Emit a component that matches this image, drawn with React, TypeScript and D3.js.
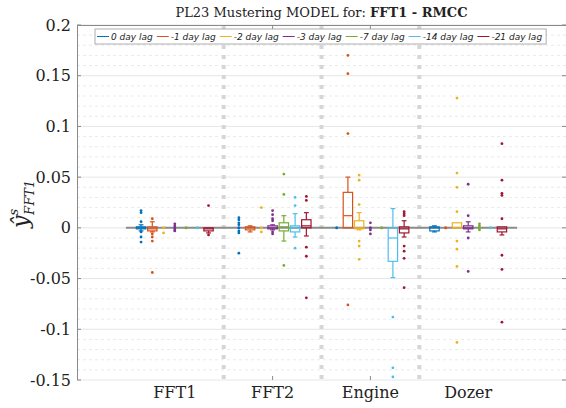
import React, { useEffect, useRef } from "react";
import * as d3 from "d3";

const categories = ["FFT1", "FFT2", "Engine", "Dozer"];
const lagLabels = ["0 day lag", "-1 day lag", "-2 day lag", "-3 day lag", "-7 day lag", "-14 day lag", "-21 day lag"];
const lagColors = ["#0072BD", "#D95319", "#EDB120", "#7E2F8E", "#77AC30", "#4DBEEE", "#A2142F"];
const yTicks = [0.2, 0.15, 0.1, 0.05, 0, -0.05, -0.1, -0.15];
const yTickLabels = ["0.2", "0.15", "0.1", "0.05", "0", "-0.05", "-0.1", "-0.15"];

// box statistics: [category][lag]
const q1s = [
  [-0.001, -0.003, 0, 0, 0, 0, -0.003],
  [0, -0.002, 0, -0.001, -0.003, -0.004, 0],
  [0, 0, -0.001, 0, 0, -0.033, -0.005],
  [-0.003, 0, 0, -0.001, 0, 0, -0.004],
];
const medians = [
  [0, -0.001, 0, 0, 0, 0, -0.001],
  [0, 0, 0, 0, 0.001, 0, 0.002],
  [0, 0.012, 0, 0, 0, -0.01, -0.001],
  [0, 0, 0, 0, 0, 0, -0.001],
];
const q3s = [
  [0.001, 0.001, 0, 0, 0, 0, 0],
  [0, 0.001, 0, 0.002, 0.005, 0.002, 0.008],
  [0, 0.035, 0.007, 0, 0, 0, 0.001],
  [0.001, 0, 0.005, 0.002, 0, 0, 0.001],
];
const whiskerLo = [
  [-0.003, -0.004, 0, 0, 0, 0, -0.005],
  [0, -0.004, 0, -0.002, -0.013, -0.009, -0.008],
  [0, 0, -0.002, 0, 0, -0.049, -0.009],
  [-0.004, 0, 0, -0.004, 0, 0, -0.007],
];
const whiskerHi = [
  [0.003, 0.006, 0, 0, 0, 0, 0],
  [0, 0.002, 0, 0.003, 0.012, 0.014, 0.015],
  [0, 0.05, 0.015, 0, 0, 0.019, 0.007],
  [0.002, 0, 0.005, 0.006, 0, 0, 0.001],
];
const outliers = [
  [
    [0.017, 0.015, 0.006, -0.004, -0.009, -0.014],
    [0.009, -0.006, -0.009, -0.013, -0.044],
    [-0.005],
    [0.004, 0.002, -0.002, -0.003],
    [],
    [],
    [0.022, -0.007],
  ],
  [
    [0.01, 0.008, 0.005, 0.003, -0.003, -0.005, -0.025],
    [],
    [0.02, -0.004],
    [0.017, 0.013, 0.009, 0.007, -0.004, -0.006],
    [0.053, 0.033, -0.037],
    [0.03, 0.022, -0.02],
    [0.031, 0.027, -0.019, -0.028, -0.069],
  ],
  [
    [],
    [0.17, 0.152, 0.093, -0.076],
    [0.052, 0.047, 0.023, -0.013, -0.018, -0.031],
    [0.005, -0.002, -0.006],
    [],
    [-0.088, -0.138, -0.147],
    [0.016, 0.014, 0.012, -0.018, -0.023, -0.03, -0.059],
  ],
  [
    [],
    [],
    [0.128, 0.054, 0.04, 0.016, -0.013, -0.021, -0.038, -0.113],
    [0.043, 0.012, -0.01, -0.043],
    [0.004, 0.002, -0.002],
    [],
    [0.083, 0.047, 0.034, 0.032, 0.009, -0.027, -0.041, -0.093],
  ],
];

export default function App() {
  const ref = useRef<SVGSVGElement>(null);
  useEffect(() => {
    const svg = d3.select(ref.current);
    svg.selectAll("*").remove();
    const W = 566, H = 408, L = 77, R = 566, T = 25, B = 380;
    const serif = "'DejaVu Serif', 'Liberation Serif', serif";
    const x = d3.scaleLinear().domain([0, 5]).range([L, R]);
    const y = d3.scaleLinear().domain([-0.15, 0.2]).range([B, T]);

    svg.append("rect").attr("width", W).attr("height", H).attr("fill", "#fff");

    // minor grid
    const minor = d3.range(-14, 20).map((k) => k / 100).filter((v) => Math.abs(Math.round(v * 100) % 5) !== 0);
    svg.append("g").selectAll("line").data(minor).join("line")
      .attr("x1", L).attr("x2", R)
      .attr("y1", (d) => y(d)).attr("y2", (d) => y(d))
      .attr("stroke", "#e4e4e4").attr("stroke-width", 0.8).attr("stroke-dasharray", "3,3");
    // major grid
    svg.append("g").selectAll("line").data(yTicks).join("line")
      .attr("x1", L).attr("x2", R)
      .attr("y1", (d) => y(d)).attr("y2", (d) => y(d))
      .attr("stroke", "#e0e0e0").attr("stroke-width", 0.8);

    // separators
    svg.append("g").selectAll("line").data([1.5, 2.5, 3.5]).join("line")
      .attr("x1", (d) => x(d)).attr("x2", (d) => x(d))
      .attr("y1", T).attr("y2", B + 4)
      .attr("stroke", "#d6d6d6").attr("stroke-width", 4).attr("stroke-dasharray", "4,6");

    // zero line
    svg.append("line")
      .attr("x1", x(0.5)).attr("x2", x(4.5)).attr("y1", y(0)).attr("y2", y(0))
      .attr("stroke", "#8c8c8c").attr("stroke-width", 2);

    // boxes
    const hw = 4.7, cap = 2.4, step = 0.115;
    const g = svg.append("g");
    categories.forEach((_, ci) => {
      lagColors.forEach((col, li) => {
        const cx = x(ci + 1 + (li - 3) * step);
        const a = q1s[ci][li], m = medians[ci][li], b = q3s[ci][li];
        const lo = whiskerLo[ci][li], hi = whiskerHi[ci][li];
        const bg = g.append("g").attr("stroke", col).attr("fill", "none").attr("stroke-width", 1.2);
        if (b > a) {
          if (hi > b) {
            bg.append("line").attr("x1", cx).attr("x2", cx).attr("y1", y(hi)).attr("y2", y(b));
            bg.append("line").attr("x1", cx - cap).attr("x2", cx + cap).attr("y1", y(hi)).attr("y2", y(hi));
          }
          if (lo < a) {
            bg.append("line").attr("x1", cx).attr("x2", cx).attr("y1", y(a)).attr("y2", y(lo));
            bg.append("line").attr("x1", cx - cap).attr("x2", cx + cap).attr("y1", y(lo)).attr("y2", y(lo));
          }
          bg.append("rect").attr("x", cx - hw).attr("width", 2 * hw)
            .attr("y", y(b)).attr("height", y(a) - y(b));
          bg.append("line").attr("x1", cx - hw).attr("x2", cx + hw).attr("y1", y(m)).attr("y2", y(m));
        } else {
          g.append("circle").attr("cx", cx).attr("cy", y(m)).attr("r", 1.5).attr("fill", col);
        }
        g.append("g").selectAll("circle").data(outliers[ci][li]).join("circle")
          .attr("cx", cx).attr("cy", (d) => y(d)).attr("r", 1.4).attr("fill", col);
      });
    });

    // axes
    const ax = svg.append("g").attr("stroke", "#8a8a8a").attr("stroke-width", 1);
    ax.append("line").attr("x1", L + 0.5).attr("x2", L + 0.5).attr("y1", T).attr("y2", B);
    ax.append("line").attr("x1", L).attr("x2", R).attr("y1", T + 0.5).attr("y2", T + 0.5);
    ax.selectAll(".lt").data(yTicks).join("line").attr("class", "lt")
      .attr("x1", L).attr("x2", L + 4).attr("y1", (d) => y(d)).attr("y2", (d) => y(d));
    ax.selectAll(".rt").data(yTicks).join("line").attr("class", "rt")
      .attr("x1", R - 4).attr("x2", R).attr("y1", (d) => y(d)).attr("y2", (d) => y(d));
    ax.selectAll(".tt").data([2, 3]).join("line").attr("class", "tt")
      .attr("x1", (d) => x(d)).attr("x2", (d) => x(d)).attr("y1", T).attr("y2", T + 4);
    ax.selectAll(".bt").data([2, 3]).join("line").attr("class", "bt")
      .attr("x1", (d) => x(d)).attr("x2", (d) => x(d)).attr("y1", B).attr("y2", B - 4);

    // y tick labels
    svg.append("g").selectAll("text").data(yTicks).join("text")
      .attr("x", L - 6).attr("y", (d) => y(d)).attr("dy", "0.35em")
      .attr("text-anchor", "end").attr("font-family", serif).attr("font-size", 16).attr("fill", "#222")
      .text((_, i) => yTickLabels[i]);

    // x category labels
    svg.append("g").selectAll("text").data(categories).join("text")
      .attr("x", (_, i) => x(i + 1)).attr("y", 398)
      .attr("text-anchor", "middle").attr("font-family", serif).attr("font-size", 16).attr("fill", "#222")
      .text((d) => d);

    // title
    const title = svg.append("text").attr("x", (L + R) / 2).attr("y", 17)
      .attr("text-anchor", "middle").attr("font-family", serif).attr("font-size", 13).attr("fill", "#222");
    title.append("tspan").text("PL23 Mustering MODEL for: ");
    title.append("tspan").attr("font-weight", "bold").text("FFT1 - RMCC");

    // y label
    const yl = svg.append("text").attr("transform", "translate(28,228) rotate(-90)")
      .attr("font-family", serif).attr("font-style", "italic").attr("fill", "#222");
    yl.append("tspan").attr("font-size", 22).text("ŷ");
    yl.append("tspan").attr("font-size", 13).attr("dy", -10).text("s");
    yl.append("tspan").attr("font-size", 13).attr("dx", -6).attr("dy", 16).text("FFT1");

    // legend
    const lg = svg.append("g").attr("transform", "translate(95,29)");
    const lrect = lg.append("rect").attr("y", 0).attr("height", 15).attr("fill", "#fff")
      .attr("stroke", "#9a9a9a").attr("stroke-width", 0.8);
    let cur = 2;
    lagLabels.forEach((lab, i) => {
      lg.append("line").attr("x1", cur).attr("x2", cur + 12).attr("y1", 7.5).attr("y2", 7.5)
        .attr("stroke", lagColors[i]).attr("stroke-width", 1);
      const t = lg.append("text").attr("x", cur + 14).attr("y", 11)
        .attr("font-family", "'DejaVu Sans', sans-serif").attr("font-style", "italic")
        .attr("font-size", 9).attr("fill", "#222").text(lab);
      const w = (t.node() as SVGTextElement).getComputedTextLength();
      cur += 14 + w + 4;
    });
    lrect.attr("width", cur);
  }, []);
  return (
    <svg ref={ref} width={566} height={408}
      style={{ position: "absolute", left: 0, top: 0, display: "block" }} />
  );
}
